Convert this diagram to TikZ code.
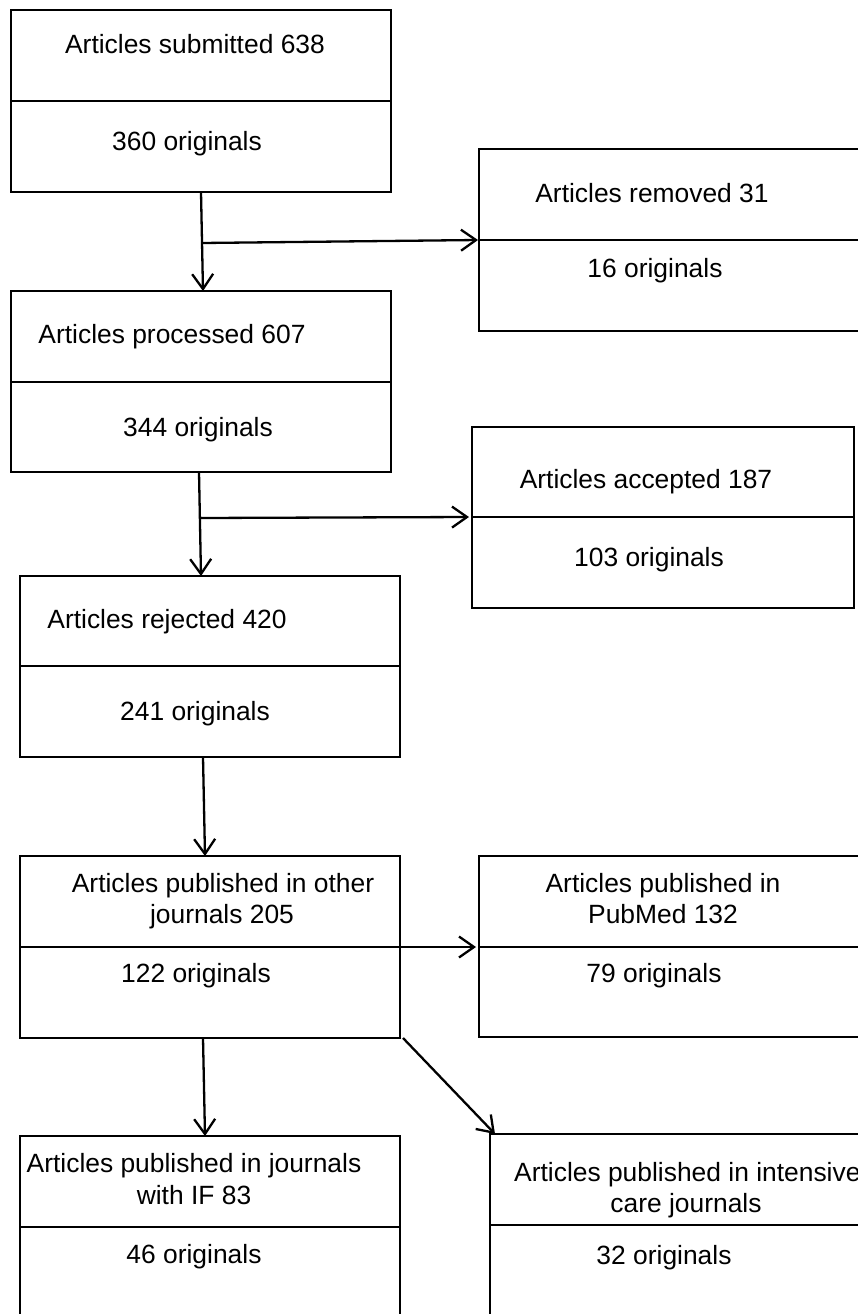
\documentclass[tikz,border=0pt]{standalone}
\usepackage{fontspec}
\setmainfont{Liberation Sans}
\usetikzlibrary{arrows.meta,fit}
\begin{document}
\begin{tikzpicture}[x=1pt,y=-1pt,
  part/.style={draw, line width=1.2pt, inner sep=0pt, outer sep=0pt},
  txt/.style={anchor=base, inner sep=0pt, font=\fontsize{26.4pt}{31pt}\selectfont},
  arr/.style={line width=2.3pt, -{Straight Barb[length=15pt,width=21pt,line width=2.3pt]}}]
\useasboundingbox (0,0) rectangle (858,1314);
\clip (0,0) rectangle (858,1314);
% boxes
\node[part, fit={(11,10) (391,101)}] (b1t) {};
\node[part, fit={(11,101) (391,192)}] (b1b) {};
\node[part, fit={(479,149) (880,240)}] (b2t) {};
\node[part, fit={(479,240) (880,331)}] (b2b) {};
\node[part, fit={(11,291) (391,382)}] (b3t) {};
\node[part, fit={(11,382) (391,472)}] (b3b) {};
\node[part, fit={(472,427) (854,517)}] (b4t) {};
\node[part, fit={(472,517) (854,608)}] (b4b) {};
\node[part, fit={(20,576) (400,666)}] (b5t) {};
\node[part, fit={(20,666) (400,757)}] (b5b) {};
\node[part, fit={(20,856) (400,947)}] (b6t) {};
\node[part, fit={(20,947) (400,1038)}] (b6b) {};
\node[part, fit={(479,856) (880,947)}] (b7t) {};
\node[part, fit={(479,947) (880,1037)}] (b7b) {};
\node[part, fit={(20,1136) (400,1227)}] (b8t) {};
\node[part, fit={(20,1227) (400,1340)}] (b8b) {};
\node[part, fit={(490,1134) (880,1225)}] (b9t) {};
\node[part, fit={(490,1225) (880,1340)}] (b9b) {};
% texts
\node[txt] (t1a) at (195,53) {Articles submitted 638};
\node[txt] (t1b) at (187,150) {360 originals};
\node[txt] (t2a) at (652,202) {Articles removed 31};
\node[txt] (t2b) at (655,277) {16 originals};
\node[txt] (t3a) at (172,343) {Articles processed 607};
\node[txt] (t3b) at (198,436) {344 originals};
\node[txt] (t4a) at (646,488) {Articles accepted 187};
\node[txt] (t4b) at (649,566) {103 originals};
\node[txt] (t5a) at (167,628) {Articles rejected 420};
\node[txt] (t5b) at (195,720) {241 originals};
\node[txt] (t6a) at (223,892) {Articles published in other};
\node[txt] (t6b) at (222,923) {journals 205};
\node[txt] (t6c) at (196,982) {122 originals};
\node[txt] (t7a) at (663,892) {Articles published in};
\node[txt] (t7b) at (663,923) {PubMed 132};
\node[txt] (t7c) at (654,982) {79 originals};
\node[txt] (t8a) at (194,1172) {Articles published in journals};
\node[txt] (t8b) at (194,1204) {with IF 83};
\node[txt] (t8c) at (194,1263) {46 originals};
\node[txt, anchor=base west] (t9a) at (514,1181) {Articles published in intensive};
\node[txt] (t9b) at (686,1212) {care journals};
\node[txt] (t9c) at (664,1264) {32 originals};
% connectors
\coordinate (j1) at (202,243);
\coordinate (j2) at (200,518);
\draw[arr] (b1b.south) -- ([xshift=2pt]b3t.north);
\draw[arr] (j1) -- ([xshift=-1pt]b2t.south west);
\draw[arr] ([xshift=-2pt]b3b.south) -- (b3b.south |- b5t.north);
\draw[arr] (j2) -- ([xshift=-3pt]b4t.south west);
\draw[arr] ([xshift=-7pt]b5b.south) -- ([xshift=-5pt]b6t.north);
\draw[arr] (b6t.south east) -- ([xshift=-3pt]b7t.south west);
\draw[arr] ([xshift=-7pt]b6b.south) -- ([xshift=-5pt]b8t.north);
\draw[arr] ([xshift=3pt]b6b.south east) -- ([xshift=5pt]b9t.north west);
\end{tikzpicture}
\end{document}
